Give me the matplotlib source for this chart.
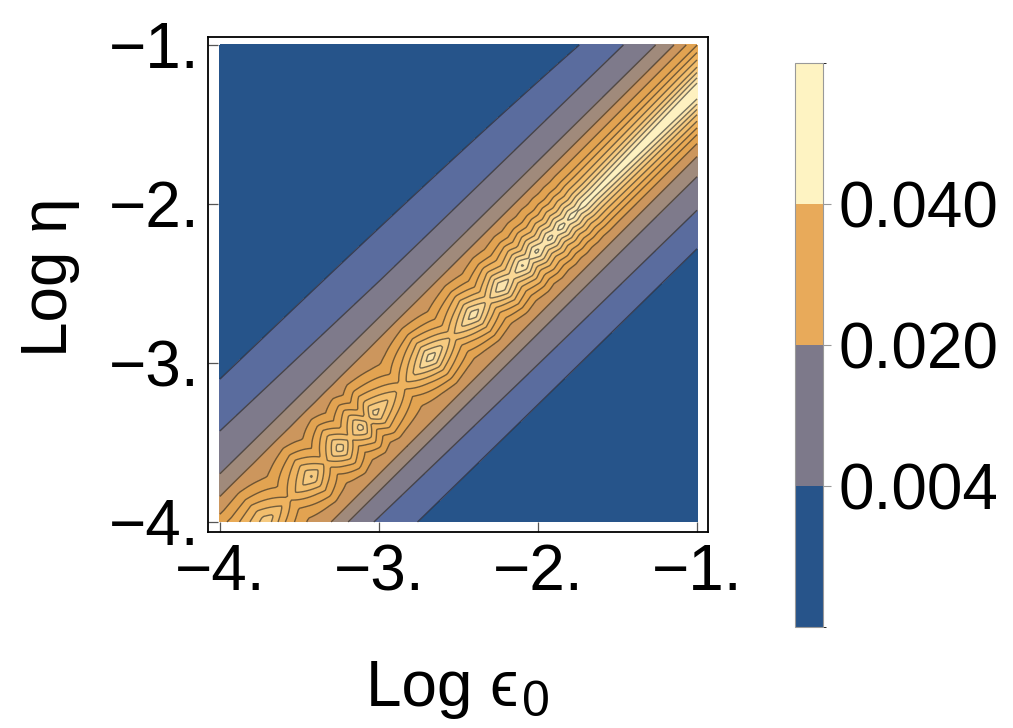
import numpy as np
import matplotlib
matplotlib.use("Agg")
import matplotlib.pyplot as plt
from matplotlib.colors import ListedColormap, BoundaryNorm
from matplotlib.cm import ScalarMappable

# ---------------- data ----------------
x_ticks = [-4, -3, -2, -1]
y_ticks = [-4, -3, -2, -1]
x_ticklabels = ["\u22124.", "\u22123.", "\u22122.", "\u22121."]
y_ticklabels = ["\u22124.", "\u22123.", "\u22122.", "\u22121."]

# ridge centre line: u = logeps - logeta
ridge_u = 0.29
# cross-section of the field: offset from ridge (in u) -> value,
# at the lower-left end and at the upper-right end of the ridge
offsets = [-1.6, -1.2, -1.0, -0.8, -0.6, -0.45, -0.3, -0.15, 0.0,
           0.15, 0.3, 0.45, 0.6, 0.8, 1.0, 1.2, 1.6]
profile_ll = [0.0, 0.0015, 0.0029, 0.0046, 0.0078, 0.0120, 0.0180, 0.0260, 0.0340,
              0.0240, 0.0160, 0.0105, 0.0047, 0.0024, 0.0011, 0.0006, 0.0]
profile_ur = [0.0, 0.0008, 0.0015, 0.0032, 0.0064, 0.0112, 0.0190, 0.0320, 0.0500,
              0.0320, 0.0176, 0.0101, 0.0067, 0.0033, 0.0015, 0.0008, 0.0]
profile_s = [-3.85, -1.15]   # along-ridge position s = (x + y) / 2 of the two profiles

# modulation of the ridge core along the ridge (peaks / troughs)
ridge_s = [-3.95, -3.85, -3.71, -3.57, -3.48, -3.39, -3.325, -3.26, -3.215, -3.17,
           -3.0, -2.82, -2.685, -2.55, -2.46, -2.375, -2.31, -2.24, -2.2, -2.155,
           -2.11, -2.07, -2.035, -2.0, -1.965, -1.93, -1.895, -1.86, -1.8, -1.0]
ridge_amp = [0.9, 1.05, 0.55, 1.05, 0.6, 1.1, 0.7, 1.05, 0.7, 1.0,
             0.5, 1.1, 0.65, 1.05, 0.75, 1.05, 0.85, 1.05, 0.9, 1.05,
             0.93, 1.04, 0.95, 1.04, 0.96, 1.03, 0.97, 1.02, 1.0, 1.0]

levels = [-1.0, 0.0015, 0.004, 0.008, 0.012, 0.016, 0.020, 0.024, 0.028,
          0.032, 0.036, 0.040, 0.044, 1.0]
band_colors = ["#26548a", "#5a6c9e", "#7e7a8b", "#a08a7b", "#cc965d", "#e2a351",
               "#e9aa55", "#eeb35f", "#f2be6d", "#f6ca80", "#f9d795", "#fce4ab", "#fef1c0"]

cbar_bounds = [0.0, 0.004, 0.020, 0.040, 0.060]
cbar_colors = ["#27548a", "#7d798a", "#e8aa5a", "#fef3c2"]
cbar_ticks = [0.004, 0.020, 0.040]
cbar_ticklabels = ["0.004", "0.020", "0.040"]

# ---------------- field construction ----------------
xs = np.linspace(-4, -1, 241)
ys = np.linspace(-4, -1, 241)
X, Y = np.meshgrid(xs, ys)
U = X - Y - ridge_u
S = (X + Y) / 2.0
t = np.clip((S - profile_s[0]) / (profile_s[1] - profile_s[0]), 0, 1)
base = (1 - t) * np.interp(U, offsets, profile_ll) + t * np.interp(U, offsets, profile_ur)
amp = np.interp(S, ridge_s, ridge_amp)
Z = np.where(base > 0.012, 0.012 + (base - 0.012) * amp, base)

# ---------------- figure ----------------
plt.rcParams["font.family"] = ["Liberation Sans", "DejaVu Sans"]
FS = 46

W, H = 1013, 728
fig = plt.figure(figsize=(W / 100, H / 100), dpi=100)
ax = fig.add_axes([208 / W, 1 - 532 / H, 500 / W, 495 / H])

ax.contourf(X, Y, Z, levels=levels, colors=band_colors)
ax.contour(X, Y, Z, levels=levels[1:-1], colors="#1e1e1e", linewidths=1.0, alpha=0.6)

ax.set_xlim(-4.075, -0.931)
ax.set_ylim(-4.063, -0.95)
ax.set_xticks(x_ticks)
ax.set_xticklabels(x_ticklabels)
ax.set_yticks(y_ticks)
ax.set_yticklabels(y_ticklabels)
ax.tick_params(direction="in", length=7.2, width=0.9, color="#555555",
               labelsize=FS, pad=8)
ax.tick_params(axis="y", pad=6)
for sp in ax.spines.values():
    sp.set_linewidth(1.3)
    sp.set_color("black")

# axis labels
fig.text(67 / W, 1 - 277 / H, "Log \u03b7", rotation=90, rotation_mode="anchor",
         ha="center", va="baseline", fontsize=FS)

fig.canvas.draw()
r = fig.canvas.get_renderer()
xl_main = fig.text(0, 1 - 706 / H, "Log \u03f5", ha="left", va="baseline", fontsize=FS)
xl_sub = fig.text(0, 1 - 716 / H, "0", ha="left", va="baseline", fontsize=FS * 0.78)
bb1 = xl_main.get_window_extent(r)
bb2 = xl_sub.get_window_extent(r)
total = bb1.width + 4 + bb2.width
x0 = 458 - total / 2
xl_main.set_x(x0 / W)
xl_sub.set_x((x0 + bb1.width + 4) / W)

# colour bar
cax = fig.add_axes([795 / W, 1 - 627 / H, 28 / W, 564 / H])
cmap = ListedColormap(cbar_colors)
norm = BoundaryNorm(cbar_bounds, cmap.N)
cb = fig.colorbar(ScalarMappable(norm=norm, cmap=cmap), cax=cax, spacing="uniform",
                  ticks=cbar_ticks)
cb.set_ticklabels(cbar_ticklabels)
cb.outline.set_edgecolor("#999999")
cb.outline.set_linewidth(0.8)
cax.tick_params(length=6, width=0.8, color="#999999", labelsize=FS, pad=5)

fig.savefig("out.png", dpi=100)
